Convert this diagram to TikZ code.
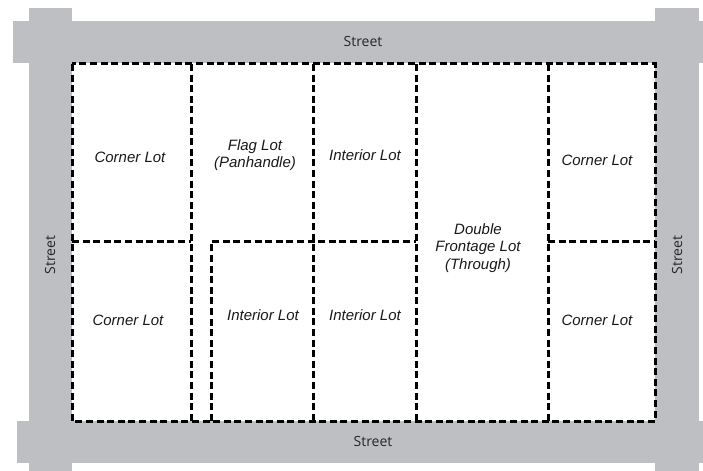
\documentclass[tikz,border=0pt]{standalone}
\usepackage{fontspec}
\setmainfont{Liberation Sans}
\newfontfamily\lotfamily{Liberation Sans}
\newfontfamily\streetfamily{Open Sans}
\definecolor{streetgray}{RGB}{190,191,194}
\newcommand{\lotfont}{\fontsize{15bp}{17.5bp}\selectfont\lotfamily\itshape}
\newcommand{\streetfont}{\fontsize{14bp}{16bp}\selectfont\streetfamily}
\tikzstyle{street} = [fill=streetgray,draw=none]
\tikzstyle{streetlabel} = [font=\streetfont,inner sep=0pt,text=black!85]
\tikzstyle{lotlabel} = [font=\lotfont,align=center,inner sep=0pt,text=black!90]
\tikzstyle{lotline} = [draw,line width=3bp,dash pattern=on 7bp off 3.6bp]
\begin{document}
\begin{tikzpicture}[x=1bp,y=-1bp]
    \useasboundingbox (0,0) rectangle (703,471);
    % streets
    \fill[street] (13,21) rectangle (703,63);
    \fill[street] (17,421) rectangle (703,463);
    \fill[street] (29,8) rectangle (72,471);
    \fill[street] (655,8) rectangle (699,471);
    \node[streetlabel] (streetN) at (363,42) {Street};
    \node[streetlabel] (streetS) at (373,441) {Street};
    \node[streetlabel,rotate=90] (streetW) at (50,255) {Street};
    \node[streetlabel,rotate=90] (streetE) at (677,255) {Street};
    % lot lines
    \draw[lotline] (72,64) rectangle (655,421);
    \foreach \x in {191,313,416,548}
      \draw[lotline] (\x,64) -- (\x,421);
    \draw[lotline] (72,242) -- (191,242);
    \draw[lotline] (211,421) -- (211,242) -- (416,242);
    \draw[lotline] (548,242) -- (655,242);
    % lots
    \foreach \nodename/\x/\y/\text in {
      cornerNW/130/157/Corner Lot,
      cornerSW/128/320/Corner Lot,
      flag/255/155/{Flag Lot\\(Panhandle)},
      interiorN/365/155/Interior Lot,
      interiorSW/263/315/Interior Lot,
      interiorSE/365/315/Interior Lot,
      double/478/248/{Double\\Frontage Lot\\(Through)},
      cornerNE/597/160/Corner Lot,
      cornerSE/597/320/Corner Lot}
    {
        \node[lotlabel] (\nodename) at (\x,\y) {\text};
    };
\end{tikzpicture}
\end{document}
